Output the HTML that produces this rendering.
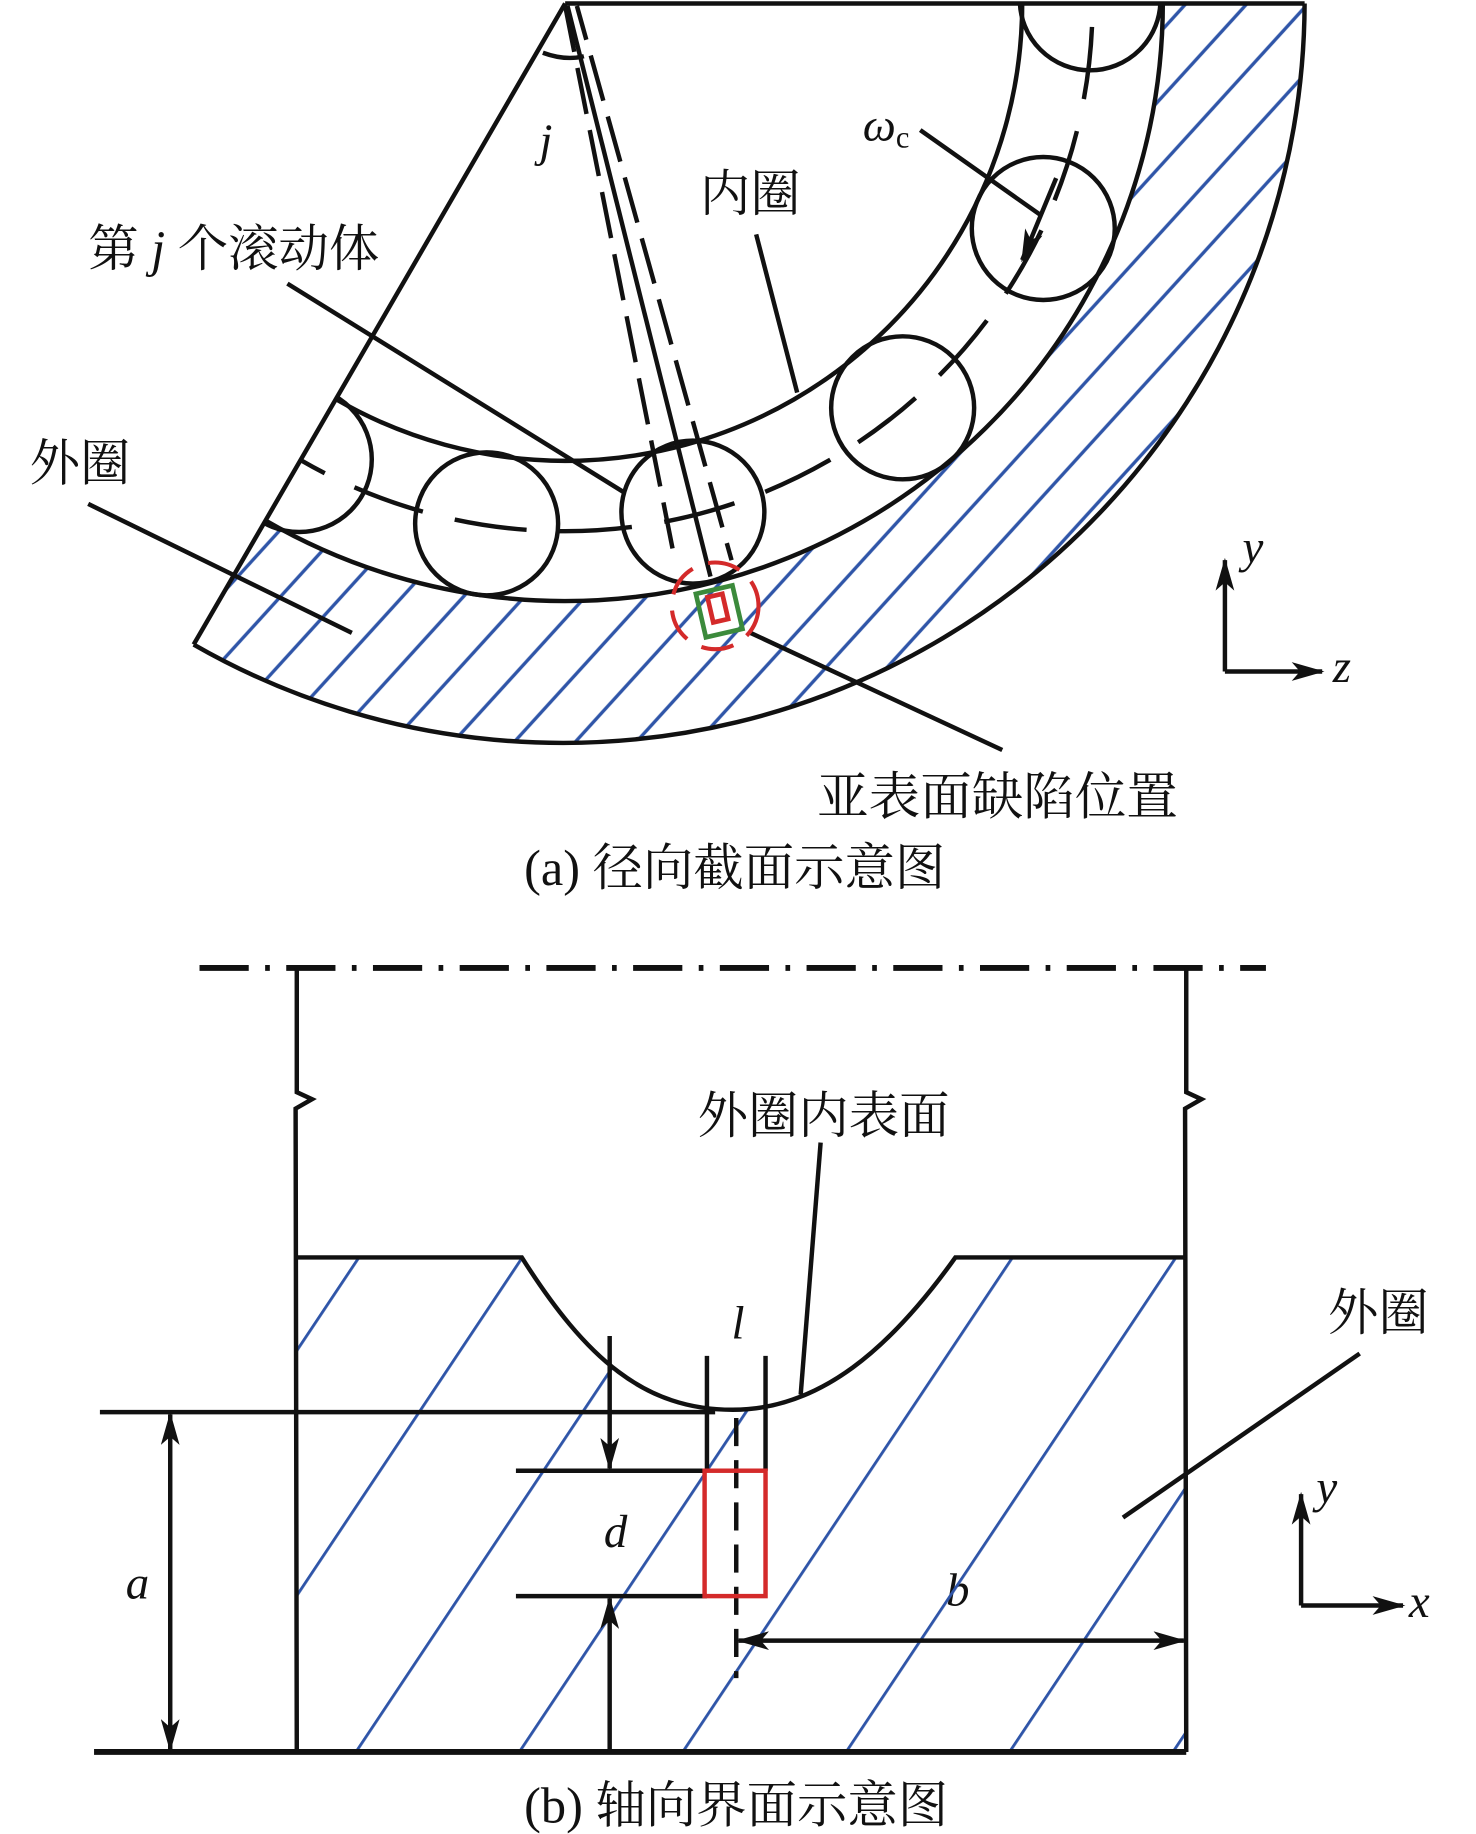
<!DOCTYPE html>
<html><head><meta charset="utf-8"><style>
html,body{margin:0;padding:0;background:#fff}
svg{display:block}
text{font-family:"Liberation Serif","Noto Serif CJK SC",serif;fill:#111}
</style></head><body>
<svg width="1476" height="1834" viewBox="0 0 1259 1565" xmlns="http://www.w3.org/2000/svg">
<defs>
<pattern id="h1" width="200" height="38.5" patternUnits="userSpaceOnUse" patternTransform="rotate(-47.7)">
<line x1="0" y1="19" x2="200" y2="19" stroke="#2f55a8" stroke-width="2.8"/></pattern>
<pattern id="h2" width="300" height="116" patternUnits="userSpaceOnUse" patternTransform="translate(302,1495) rotate(-56.3)">
<line x1="0" y1="1" x2="300" y2="1" stroke="#2f55a8" stroke-width="3"/></pattern>
<clipPath id="wedge"><path d="M482,3 L1113,3 A633,633 0 0 1 165,550 Z"/></clipPath>
<marker id="ar2" markerWidth="28" markerHeight="16" refX="26" refY="8" orient="auto" markerUnits="userSpaceOnUse" viewBox="0 0 28 16">
<path d="M0,0 L28,8 L0,16 L7,8 Z" fill="#111"/></marker>
<marker id="ar2s" markerWidth="28" markerHeight="16" refX="2" refY="8" orient="auto" markerUnits="userSpaceOnUse" viewBox="0 0 28 16">
<path d="M28,0 L0,8 L28,16 L21,8 Z" fill="#111"/></marker>
</defs>

<path d="M165,550 A633,633 0 0 0 1113,3 L992,3 A510,510 0 0 1 226,444 Z" fill="url(#h1)"/>
<g fill="none" stroke="#111" stroke-width="3.8">
<path d="M482,3 L1113,3"/>
<path d="M482,3 L165,550"/>
<path d="M165,550 A633,633 0 0 0 1113,3"/>
<path d="M992,3 A510,510 0 0 1 226,444"/>
<path d="M872,3 A390,390 0 0 1 287,341"/>
<g clip-path="url(#wedge)">
<circle cx="930" cy="0" r="60"/>
<circle cx="890" cy="195" r="61"/>
<circle cx="770" cy="348" r="61"/>
<circle cx="591" cy="437" r="61"/>
<circle cx="415" cy="447" r="61"/>
<circle cx="255" cy="392" r="62"/>
<path d="M932,3 A450,450 0 0 1 257,393" stroke-dasharray="62,28" stroke-dashoffset="-20"/>
</g>
<path d="M484,5 L606,492"/>
<path d="M482,5 L576,480" stroke-dasharray="40,14"/>
<path d="M492,5 L624,478" stroke-dasharray="40,14" stroke-dashoffset="10"/>
<path d="M463,45 Q482,52 498,48"/>
<path d="M245,242 L532,420"/>
<path d="M645,200 L680,335"/>
<path d="M75,430 L300,540"/>
<path d="M640,540 L855,640"/>
<path d="M785,111 L887,183"/>
<path d="M901,152 L872,222" marker-end="url(#ar2)"/>
<path d="M1045,573 L1045,478" marker-end="url(#ar2)"/>
<path d="M1045,573 L1128,573" marker-end="url(#ar2)"/>
</g>
<circle cx="610" cy="517" r="37" fill="none" stroke="#d42a2a" stroke-width="3.5" stroke-dasharray="28,14"/>
<g transform="rotate(-13 612 520)">
<rect x="597" y="503" width="32" height="38" fill="none" stroke="#3b8a3b" stroke-width="4"/>
<rect x="606" y="508" width="13" height="22" fill="none" stroke="#d42a2a" stroke-width="4"/>
</g>

<g font-size="43">
<text x="75" y="227">第 <tspan font-style="italic">j</tspan> 个滚动体</text>
<text x="597" y="180">内圈</text>
<text x="25" y="410">外圈</text>
<text x="697" y="695" font-size="44">亚表面缺陷位置</text>
<text x="447" y="755">(a) 径向截面示意图</text>
<text x="595" y="967">外圈内表面</text>
<text x="1133" y="1135">外圈</text>
<text x="447" y="1555">(b) 轴向界面示意图</text>
</g>
<g font-size="40" font-style="italic">
<text x="460" y="133">j</text>
<text x="736" y="120">ω<tspan font-size="26" font-style="normal" dy="6">c</tspan></text>
<text x="1060" y="480">y</text>
<text x="1137" y="582">z</text>
<text x="107" y="1364">a</text>
<text x="515" y="1320">d</text>
<text x="624" y="1142">l</text>
<text x="807" y="1370">b</text>
<text x="1123" y="1282">y</text>
<text x="1202" y="1380">x</text>
</g>

<path d="M253,1073 L445,1073 C500,1160 550,1203 625,1203 C700,1203 760,1150 815,1073 L1012,1073 L1012,1495 L253,1495 Z" fill="url(#h2)"/>
<rect x="601" y="1255" width="52" height="107" fill="#fff"/>
<g fill="none" stroke="#111" stroke-width="3.8">
<path d="M170,826 L1080,826" stroke-width="5" stroke-dasharray="42,14,4,14"/>
<path d="M253,826 L253,932 L266,938 L252,946 L253,1495"/>
<path d="M1012,826 L1012,932 L1025,938 L1011,946 L1012,1495"/>
<path d="M253,1073 L445,1073 C500,1160 550,1203 625,1203 C700,1203 760,1150 815,1073 L1012,1073"/>
<path d="M80,1495 L1012,1495" stroke-width="5"/>
<path d="M85,1205 L610,1205"/>
<path d="M440,1255 L603,1255"/>
<path d="M440,1362 L603,1362"/>
<path d="M603,1157 L603,1255"/>
<path d="M653,1157 L653,1255"/>
<path d="M628,1210 L628,1432" stroke-dasharray="24,12"/>
<path d="M520,1140 L520,1253" marker-end="url(#ar2)"/>
<path d="M520,1495 L520,1364" marker-end="url(#ar2)"/>
<path d="M145,1207 L145,1493" marker-start="url(#ar2s)" marker-end="url(#ar2)"/>
<path d="M630,1400 L1010,1400" marker-start="url(#ar2s)" marker-end="url(#ar2)"/>
<path d="M700,975 L683,1190"/>
<path d="M1160,1155 L958,1295"/>
<path d="M1110,1370 L1110,1275" marker-end="url(#ar2)"/>
<path d="M1110,1370 L1197,1370" marker-end="url(#ar2)"/>
</g>
<rect x="601" y="1255" width="52" height="107" fill="none" stroke="#d42a2a" stroke-width="3.8"/>
</svg>
</body></html>
